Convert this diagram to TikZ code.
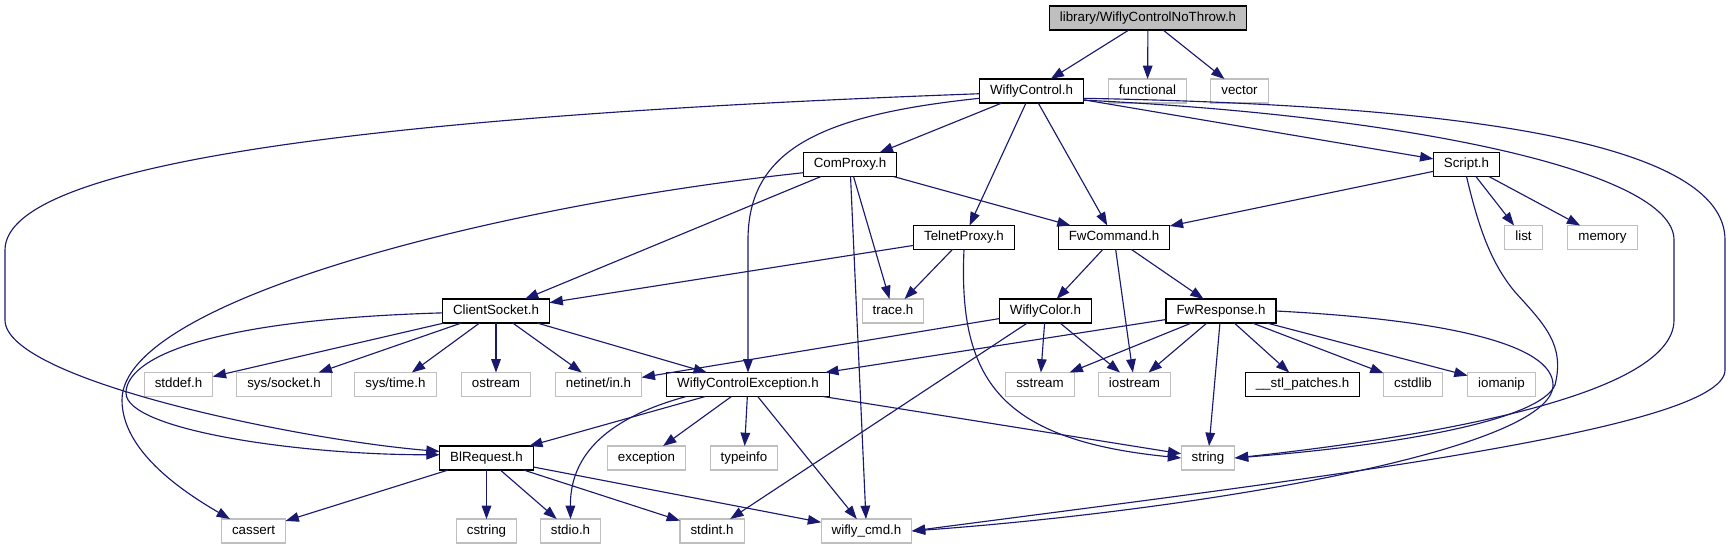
\documentclass[tikz,border=0pt]{standalone}
\usepackage{fontspec}
\setmainfont{Liberation Sans}
\usetikzlibrary{arrows.meta}
\definecolor{edgeblue}{RGB}{25,25,112}
\definecolor{extgray}{RGB}{191,191,191}

\begin{document}
\begin{tikzpicture}[
        x=0.75pt, y=-0.75pt,
        hdr/.style={rectangle, draw=black, fill=white, line width=0.9pt, minimum height=18pt, inner xsep=7.9pt, inner ysep=0pt, outer sep=0pt, font=\fontsize{10}{12}\selectfont, text height=7.2pt, text depth=2pt},
        ext/.style={hdr, draw=extgray, line width=0.8pt},
        rootbox/.style={hdr, fill=extgray},
        arrow/.style={-{Triangle[length=10pt, width=7.2pt]}, draw=edgeblue, line width=0.85pt}
    ]
        \fill[white] (0,0) rectangle (1731,549);

        % The file itself and what it includes
        \node[rootbox] (root) at (1148,18) {library/WiflyControlNoThrow.h};
        \node[hdr] (wc) at (1031.5,91) {WiflyControl.h};
        \node[ext] (func) at (1147.5,91) {functional};
        \node[ext] (vec) at (1239.5,91) {vector};

        % Proxies and script
        \node[hdr] (cp) at (850,164.5) {ComProxy.h};
        \node[hdr] (scr) at (1466.5,164.5) {Script.h};
        \node[hdr] (tp) at (964,237.5) {TelnetProxy.h};
        \node[hdr] (fc) at (1114,237.5) {FwCommand.h};
        \node[ext] (lst) at (1523.5,237.5) {list};
        \node[ext] (mem) at (1602.5,237.5) {memory};

        % Socket, colour and response
        \node[hdr] (cs) at (496,311) {ClientSocket.h};
        \node[ext] (trc) at (893,311) {trace.h};
        \node[hdr] (wcol) at (1045.5,311) {WiflyColor.h};
        \node[hdr] (fr) at (1221,311) {FwResponse.h};

        % Row of system headers and the exception
        \node[ext] (stdd) at (178.5,384.5) {stddef.h};
        \node[ext] (sock) at (284,384.5) {sys/socket.h};
        \node[ext] (stime) at (395.5,384.5) {sys/time.h};
        \node[ext] (ostr) at (496,384.5) {ostream};
        \node[ext] (netin) at (598.5,384.5) {netinet/in.h};
        \node[hdr] (wce) at (748,384.5) {WiflyControlException.h};
        \node[ext] (sstr) at (1040,384.5) {sstream};
        \node[ext] (iostr) at (1134.5,384.5) {iostream};
        \node[hdr] (stl) at (1302.5,384.5) {\_\_stl\_patches.h};
        \node[ext] (cstdl) at (1413,384.5) {cstdlib};
        \node[ext] (ioman) at (1501.5,384.5) {iomanip};

        % Request row
        \node[hdr] (bl) at (486.5,458) {BlRequest.h};
        \node[ext] (exc) at (646.5,458) {exception};
        \node[ext] (tinfo) at (744,458) {typeinfo};
        \node[ext] (str) at (1208,458) {string};

        % Bottom row
        \node[ext] (cass) at (253.5,531) {cassert};
        \node[ext] (cstr) at (486.5,531) {cstring};
        \node[ext] (stdio) at (570.5,531) {stdio.h};
        \node[ext] (stdint) at (712,531) {stdint.h};
        \node[ext] (wcmd) at (866.5,531) {wifly\_cmd.h};

        % Straight includes
        \draw[arrow] (root) -- (wc);
        \draw[arrow] (root) -- (func);
        \draw[arrow] (root) -- (vec);
        \draw[arrow] (wc) -- (cp);
        \draw[arrow] (wc) -- (tp);
        \draw[arrow] (wc) -- (fc);
        \draw[arrow] (wc) -- (scr);
        \draw[arrow] (cp) -- (cs);
        \draw[arrow] (cp) -- (trc);
        \draw[arrow] (cp) -- (wcmd);
        \draw[arrow] (cp) -- (fc);
        \draw[arrow] (tp) -- (cs);
        \draw[arrow] (tp) -- (trc);
        \draw[arrow] (fc) -- (wcol);
        \draw[arrow] (fc) -- (fr);
        \draw[arrow] (fc) -- (iostr);
        \draw[arrow] (scr) -- (fc);
        \draw[arrow] (scr) -- (lst);
        \draw[arrow] (scr) -- (mem);
        \draw[arrow] (cs) -- (stdd);
        \draw[arrow] (cs) -- (sock);
        \draw[arrow] (cs) -- (stime);
        \draw[arrow] (cs) -- (ostr);
        \draw[arrow] (cs) -- (netin);
        \draw[arrow] (cs) -- (wce);
        \draw[arrow] (wcol) -- (netin);
        \draw[arrow] (wcol) -- (sstr);
        \draw[arrow] (wcol) -- (iostr);
        \draw[arrow] (wcol) -- (stdint);
        \draw[arrow] (fr) -- (wce);
        \draw[arrow] (fr) -- (sstr);
        \draw[arrow] (fr) -- (iostr);
        \draw[arrow] (fr) -- (stl);
        \draw[arrow] (fr) -- (cstdl);
        \draw[arrow] (fr) -- (ioman);
        \draw[arrow] (fr) -- (str);
        \draw[arrow] (wce) -- (bl);
        \draw[arrow] (wce) -- (exc);
        \draw[arrow] (wce) -- (tinfo);
        \draw[arrow] (wce) -- (wcmd);
        \draw[arrow] (wce) -- (str);
        \draw[arrow] (bl) -- (cass);
        \draw[arrow] (bl) -- (cstr);
        \draw[arrow] (bl) -- (stdio);
        \draw[arrow] (bl) -- (stdint);
        \draw[arrow] (bl) -- (wcmd);

        % Curved includes
        \draw[arrow] (wc.183) .. controls (400,115) and (5,160) .. (5,250) -- (5,320) .. controls (5,380) and (300,440) .. (bl.172);
        \draw[arrow] (cp.190) .. controls (500,205) and (122,300) .. (122,400) .. controls (122,450) and (180,490) .. (cass.153);
        \draw[arrow] (cs.182) .. controls (200,320) and (126,360) .. (126,393) .. controls (126,430) and (300,455) .. (bl.176);
        \draw[arrow] (wc.188) .. controls (820,115) and (748,150) .. (748,240) -- (wce.north);
        \draw[arrow] (wc.-10) .. controls (1400,115) and (1674,170) .. (1674,240) -- (1674,320) .. controls (1674,400) and (1400,440) .. (str.east);
        \draw[arrow] (wc.-8) .. controls (1450,105) and (1725,140) .. (1725,240) -- (1725,370) .. controls (1725,430) and (1300,480) .. (wcmd.east);
        \draw[arrow] (fr.east) .. controls (1450,320) and (1553,345) .. (1553,385) .. controls (1553,450) and (1200,510) .. (wcmd.east);
        \draw[arrow] (scr.south) .. controls (1478,225) and (1490,262) .. (1515,292) .. controls (1545,325) and (1565,345) .. (1555,385) .. controls (1540,420) and (1400,445) .. (str.east);
        \draw[arrow] (tp.south) .. controls (958,380) and (1000,440) .. (str.west);
        \draw[arrow] (wce.191) .. controls (600,420) and (570,460) .. (stdio.north);

    \end{tikzpicture}
\end{document}
